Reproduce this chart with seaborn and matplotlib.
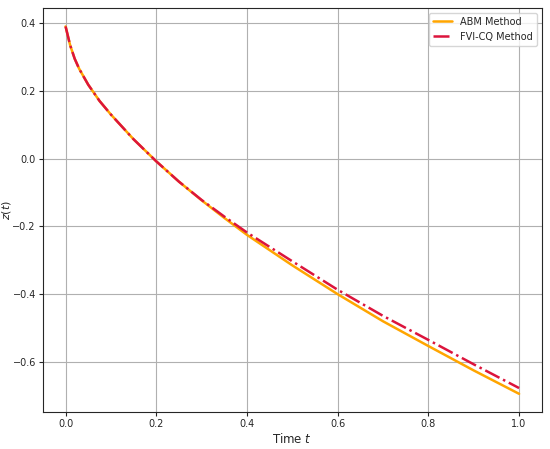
import numpy as np
import pandas as pd
import matplotlib
matplotlib.use('Agg')
import matplotlib.pyplot as plt
import seaborn as sns

# values
t = [0.0, 0.01, 0.02, 0.03, 0.05, 0.075, 0.1, 0.15, 0.2, 0.25, 0.3,
     0.35, 0.4, 0.5, 0.6, 0.7, 0.8, 0.9, 1.0]
z_abm = [0.39, 0.335, 0.295, 0.265, 0.218, 0.17, 0.13, 0.057, -0.008, -0.068, -0.123,
         -0.175, -0.225, -0.315, -0.40, -0.48, -0.553, -0.625, -0.694]
z_fvi = [0.39, 0.335, 0.295, 0.265, 0.218, 0.17, 0.13, 0.057, -0.008, -0.068, -0.122,
         -0.171, -0.218, -0.303, -0.387, -0.464, -0.535, -0.607, -0.677]

df = pd.DataFrame({'t': t, 'ABM Method': z_abm, 'FVI-CQ Method': z_fvi})

sns.set_style('ticks')
plt.rcParams['font.family'] = ['DejaVu Sans']

fig, ax = plt.subplots(figsize=(5.5, 4.49), dpi=100)
fig.subplots_adjust(left=0.078, right=0.985, top=0.982, bottom=0.082)

sns.lineplot(data=df, x='t', y='ABM Method', color='#FFA500', lw=1.8,
             label='ABM Method', ax=ax)
sns.lineplot(data=df, x='t', y='FVI-CQ Method', color='#DC143C', lw=1.8,
             linestyle='-.', label='FVI-CQ Method', ax=ax)

ax.grid(True, color='#b0b0b0', lw=0.8)
ax.set_xlabel('Time $t$', fontsize=8.5, labelpad=2)
ax.set_ylabel('$z(t)$', fontsize=8)
ax.yaxis.set_label_coords(-0.06, 0.5)
ax.tick_params(labelsize=7, length=3, pad=2)
ax.legend(loc='upper right', fontsize=7)

fig.savefig('out.png', dpi=100)
